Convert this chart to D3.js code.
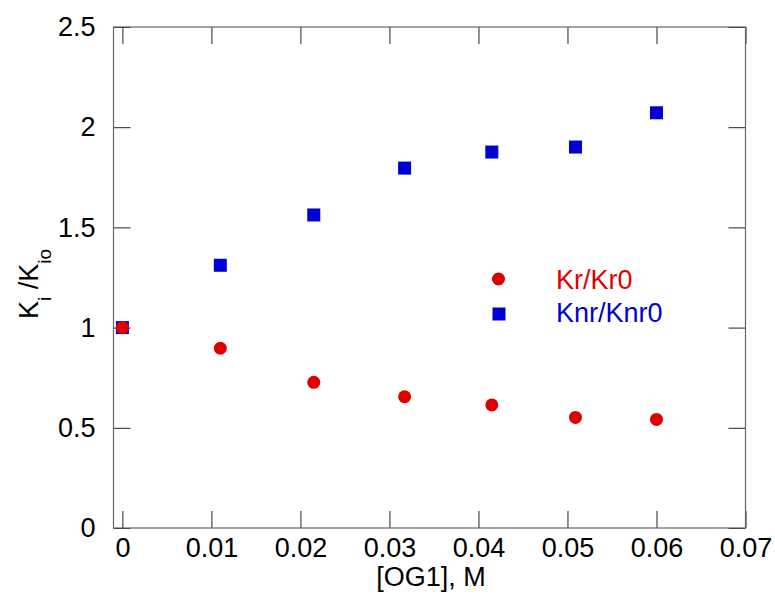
<!DOCTYPE html>
<html><head><meta charset="utf-8">
<script src="https://cdn.jsdelivr.net/npm/d3@7"></script>
<style>body{margin:0;background:#fff}svg{display:block}text{font-family:"Liberation Sans",Arial,sans-serif}</style>
</head><body>
<script>
const concentrations = [0, 0.011, 0.0215, 0.0317, 0.0415, 0.0509, 0.06];
const krRatio = [1.0, 0.897, 0.727, 0.655, 0.614, 0.552, 0.542];
const knrRatio = [1.0, 1.311, 1.562, 1.796, 1.876, 1.901, 2.072];
const xTicks = [0, 0.01, 0.02, 0.03, 0.04, 0.05, 0.06, 0.07];
const yTicks = [0, 0.5, 1, 1.5, 2, 2.5];
const seriesNames = ["Kr/Kr0", "Knr/Knr0"];

const W = 775, H = 599;
const L = 113.5, R = 745.5, T = 27, B = 528;
const FS = 27;
const svg = d3.select("body").append("svg").attr("width", W).attr("height", H);
const x = d3.scaleLinear().domain([-0.001, 0.07]).range([L, R]);
const y = d3.scaleLinear().domain([0, 2.5]).range([B, T]);
const red = "#e00000", blue = "#0000d2";
const fmtX = d => d === 0 ? "0" : d3.format(".2f")(d);
const fmtY = d => String(d);

// axes with inward ticks
const tl = 17;
svg.append("g").attr("transform", `translate(0,${B})`)
  .call(d3.axisBottom(x).tickValues(xTicks).tickSize(-tl).tickPadding(10).tickFormat(fmtX))
  .call(g => { g.select(".domain").remove(); g.selectAll("text").attr("font-size", FS).attr("fill", "#000"); g.selectAll("line").attr("stroke", "#222"); });
svg.append("g").attr("transform", `translate(0,${T})`)
  .call(d3.axisTop(x).tickValues(xTicks).tickSize(-tl).tickFormat(""))
  .call(g => { g.select(".domain").remove(); g.selectAll("line").attr("stroke", "#222"); });
svg.append("g").attr("transform", `translate(${L},0)`)
  .call(d3.axisLeft(y).tickValues(yTicks).tickSize(-tl).tickPadding(18).tickFormat(fmtY))
  .call(g => { g.select(".domain").remove(); g.selectAll("text").attr("font-size", FS).attr("fill", "#000"); g.selectAll("line").attr("stroke", "#222"); });
svg.append("g").attr("transform", `translate(${R},0)`)
  .call(d3.axisRight(y).tickValues(yTicks).tickSize(-tl).tickFormat(""))
  .call(g => { g.select(".domain").remove(); g.selectAll("line").attr("stroke", "#222"); });

svg.append("rect").attr("x", L).attr("y", T).attr("width", R - L).attr("height", B - T)
  .attr("fill", "none").attr("stroke", "#666").attr("stroke-width", 1.2);

// data
const circles = concentrations.map((c, i) => ({ x: c, y: krRatio[i] }));
const squares = concentrations.map((c, i) => ({ x: c, y: knrRatio[i] }));
const sq = 13;
svg.append("g").selectAll("rect").data(squares).join("rect")
  .attr("x", d => x(d.x) - sq / 2).attr("y", d => y(d.y) - sq / 2)
  .attr("width", sq).attr("height", sq).attr("fill", blue);
svg.append("g").selectAll("circle").data(circles).join("circle")
  .attr("cx", d => x(d.x)).attr("cy", d => y(d.y)).attr("r", 6.5).attr("fill", red);

// legend
svg.append("circle").attr("cx", 498.5).attr("cy", 279).attr("r", 6.5).attr("fill", red);
svg.append("rect").attr("x", 499 - sq / 2).attr("y", 314 - sq / 2).attr("width", sq).attr("height", sq).attr("fill", blue);
svg.append("text").attr("x", 556).attr("y", 289).attr("font-size", FS).attr("fill", red).text(seriesNames[0]);
svg.append("text").attr("x", 556).attr("y", 322).attr("font-size", FS).attr("fill", blue).text(seriesNames[1]);

// axis titles
svg.append("text").attr("x", 431).attr("y", 586).attr("text-anchor", "middle").attr("font-size", FS).text("[OG1], M");
const yl = svg.append("text").attr("transform", "translate(38,284) rotate(-90)").attr("text-anchor", "middle").attr("font-size", FS);
yl.append("tspan").text("K");
yl.append("tspan").attr("font-size", 19).attr("dy", 13).text("i");
yl.append("tspan").attr("dy", -13).text(" /K");
yl.append("tspan").attr("font-size", 19).attr("dy", 13).text("io");
</script>
</body></html>
